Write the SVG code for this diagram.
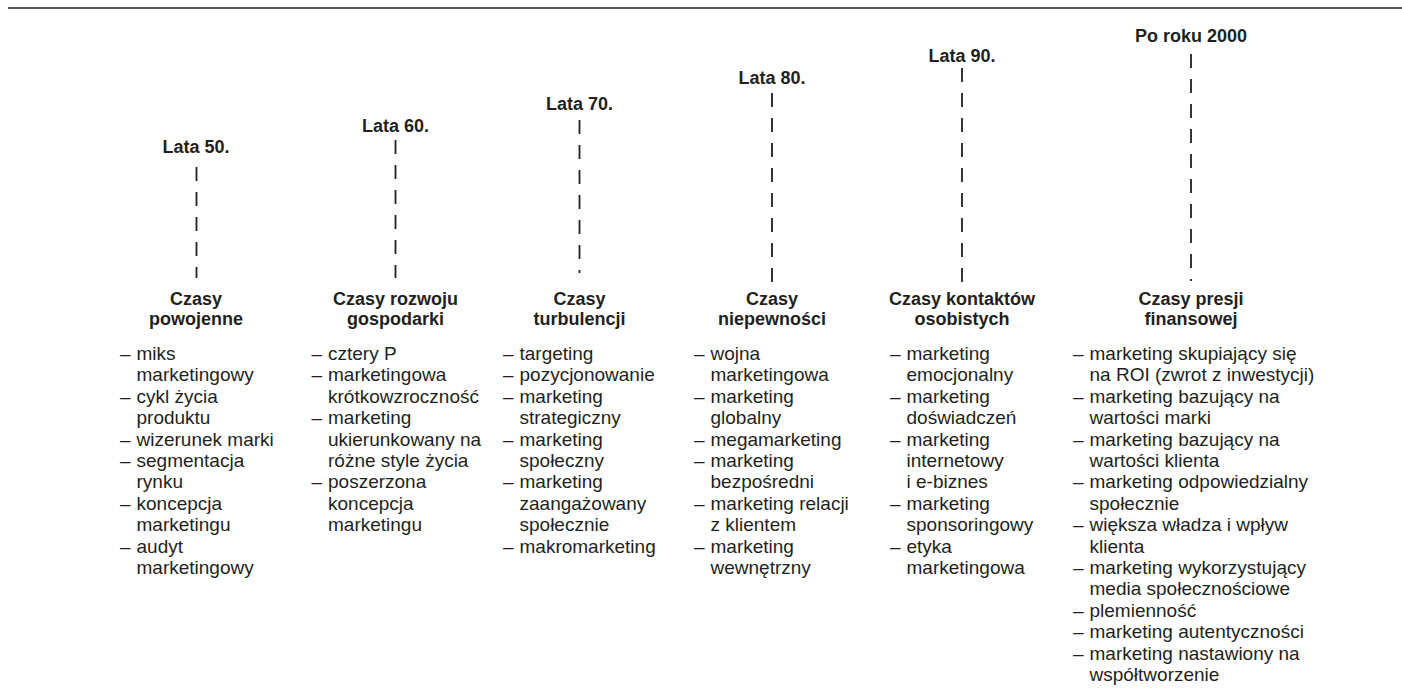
<svg xmlns="http://www.w3.org/2000/svg" width="1402" height="699" viewBox="0 0 1402 699">
<style>
text{font-family:"Liberation Sans",Arial,Helvetica,sans-serif;fill:#231f20}
.yr,.hd{font-size:18px;font-weight:bold;text-anchor:middle}
.it{font-size:19px}
.dl{stroke:#231f20;stroke-width:1.8;stroke-dasharray:14 11;fill:none}
</style>
<rect width="1402" height="699" fill="#fff"/>
<line x1="8" y1="8" x2="1402" y2="8" stroke="#231f20" stroke-width="1.6"/>
<g id="connectors">
<line class="dl" x1="196.5" y1="167" x2="196.5" y2="278"/>
<line class="dl" x1="395.5" y1="140" x2="395.5" y2="278"/>
<line class="dl" x1="579.5" y1="120" x2="579.5" y2="273"/>
<line class="dl" x1="772" y1="93" x2="772" y2="282"/>
<line class="dl" x1="962" y1="68" x2="962" y2="282"/>
<line class="dl" x1="1191" y1="54" x2="1191" y2="281"/>
</g>
<g id="col1">
<text class="yr" x="196" y="153">Lata 50.</text>
<text class="hd" x="196" y="305">Czasy</text>
<text class="hd" x="196" y="325">powojenne</text>
<text class="it" x="120" y="360">–</text><text class="it" x="136.5" y="360">miks</text>
<text class="it" x="136.5" y="381.4">marketingowy</text>
<text class="it" x="120" y="402.8">–</text><text class="it" x="136.5" y="402.8">cykl życia</text>
<text class="it" x="136.5" y="424.2">produktu</text>
<text class="it" x="120" y="445.6">–</text><text class="it" x="136.5" y="445.6">wizerunek marki</text>
<text class="it" x="120" y="467">–</text><text class="it" x="136.5" y="467">segmentacja</text>
<text class="it" x="136.5" y="488.4">rynku</text>
<text class="it" x="120" y="509.8">–</text><text class="it" x="136.5" y="509.8">koncepcja</text>
<text class="it" x="136.5" y="531.2">marketingu</text>
<text class="it" x="120" y="552.6">–</text><text class="it" x="136.5" y="552.6">audyt</text>
<text class="it" x="136.5" y="574">marketingowy</text>
</g>
<g id="col2">
<text class="yr" x="395.5" y="131.5">Lata 60.</text>
<text class="hd" x="395.5" y="305">Czasy rozwoju</text>
<text class="hd" x="395.5" y="325">gospodarki</text>
<text class="it" x="311.5" y="360">–</text><text class="it" x="328" y="360">cztery P</text>
<text class="it" x="311.5" y="381.4">–</text><text class="it" x="328" y="381.4">marketingowa</text>
<text class="it" x="328" y="402.8">krótkowzroczność</text>
<text class="it" x="311.5" y="424.2">–</text><text class="it" x="328" y="424.2">marketing</text>
<text class="it" x="328" y="445.6">ukierunkowany na</text>
<text class="it" x="328" y="467">różne style życia</text>
<text class="it" x="311.5" y="488.4">–</text><text class="it" x="328" y="488.4">poszerzona</text>
<text class="it" x="328" y="509.8">koncepcja</text>
<text class="it" x="328" y="531.2">marketingu</text>
</g>
<g id="col3">
<text class="yr" x="579.5" y="110">Lata 70.</text>
<text class="hd" x="579.5" y="305">Czasy</text>
<text class="hd" x="579.5" y="325">turbulencji</text>
<text class="it" x="503" y="360">–</text><text class="it" x="519.5" y="360">targeting</text>
<text class="it" x="503" y="381.4">–</text><text class="it" x="519.5" y="381.4">pozycjonowanie</text>
<text class="it" x="503" y="402.8">–</text><text class="it" x="519.5" y="402.8">marketing</text>
<text class="it" x="519.5" y="424.2">strategiczny</text>
<text class="it" x="503" y="445.6">–</text><text class="it" x="519.5" y="445.6">marketing</text>
<text class="it" x="519.5" y="467">społeczny</text>
<text class="it" x="503" y="488.4">–</text><text class="it" x="519.5" y="488.4">marketing</text>
<text class="it" x="519.5" y="509.8">zaangażowany</text>
<text class="it" x="519.5" y="531.2">społecznie</text>
<text class="it" x="503" y="552.6">–</text><text class="it" x="519.5" y="552.6">makromarketing</text>
</g>
<g id="col4">
<text class="yr" x="772" y="84">Lata 80.</text>
<text class="hd" x="772" y="305">Czasy</text>
<text class="hd" x="772" y="325">niepewności</text>
<text class="it" x="694" y="360">–</text><text class="it" x="710.5" y="360">wojna</text>
<text class="it" x="710.5" y="381.4">marketingowa</text>
<text class="it" x="694" y="402.8">–</text><text class="it" x="710.5" y="402.8">marketing</text>
<text class="it" x="710.5" y="424.2">globalny</text>
<text class="it" x="694" y="445.6">–</text><text class="it" x="710.5" y="445.6">megamarketing</text>
<text class="it" x="694" y="467">–</text><text class="it" x="710.5" y="467">marketing</text>
<text class="it" x="710.5" y="488.4">bezpośredni</text>
<text class="it" x="694" y="509.8">–</text><text class="it" x="710.5" y="509.8">marketing relacji</text>
<text class="it" x="710.5" y="531.2">z klientem</text>
<text class="it" x="694" y="552.6">–</text><text class="it" x="710.5" y="552.6">marketing</text>
<text class="it" x="710.5" y="574">wewnętrzny</text>
</g>
<g id="col5">
<text class="yr" x="962" y="62">Lata 90.</text>
<text class="hd" x="962" y="305">Czasy kontaktów</text>
<text class="hd" x="962" y="325">osobistych</text>
<text class="it" x="890" y="360">–</text><text class="it" x="906.5" y="360">marketing</text>
<text class="it" x="906.5" y="381.4">emocjonalny</text>
<text class="it" x="890" y="402.8">–</text><text class="it" x="906.5" y="402.8">marketing</text>
<text class="it" x="906.5" y="424.2">doświadczeń</text>
<text class="it" x="890" y="445.6">–</text><text class="it" x="906.5" y="445.6">marketing</text>
<text class="it" x="906.5" y="467">internetowy</text>
<text class="it" x="906.5" y="488.4">i e-biznes</text>
<text class="it" x="890" y="509.8">–</text><text class="it" x="906.5" y="509.8">marketing</text>
<text class="it" x="906.5" y="531.2">sponsoringowy</text>
<text class="it" x="890" y="552.6">–</text><text class="it" x="906.5" y="552.6">etyka</text>
<text class="it" x="906.5" y="574">marketingowa</text>
</g>
<g id="col6">
<text class="yr" x="1191" y="42">Po roku 2000</text>
<text class="hd" x="1191" y="305">Czasy presji</text>
<text class="hd" x="1191" y="325">finansowej</text>
<text class="it" x="1073" y="360">–</text><text class="it" x="1089.5" y="360">marketing skupiający się</text>
<text class="it" x="1089.5" y="381.4">na ROI (zwrot z inwestycji)</text>
<text class="it" x="1073" y="402.8">–</text><text class="it" x="1089.5" y="402.8">marketing bazujący na</text>
<text class="it" x="1089.5" y="424.2">wartości marki</text>
<text class="it" x="1073" y="445.6">–</text><text class="it" x="1089.5" y="445.6">marketing bazujący na</text>
<text class="it" x="1089.5" y="467">wartości klienta</text>
<text class="it" x="1073" y="488.4">–</text><text class="it" x="1089.5" y="488.4">marketing odpowiedzialny</text>
<text class="it" x="1089.5" y="509.8">społecznie</text>
<text class="it" x="1073" y="531.2">–</text><text class="it" x="1089.5" y="531.2">większa władza i wpływ</text>
<text class="it" x="1089.5" y="552.6">klienta</text>
<text class="it" x="1073" y="574">–</text><text class="it" x="1089.5" y="574">marketing wykorzystujący</text>
<text class="it" x="1089.5" y="595.4">media społecznościowe</text>
<text class="it" x="1073" y="616.8">–</text><text class="it" x="1089.5" y="616.8">plemienność</text>
<text class="it" x="1073" y="638.2">–</text><text class="it" x="1089.5" y="638.2">marketing autentyczności</text>
<text class="it" x="1073" y="659.6">–</text><text class="it" x="1089.5" y="659.6">marketing nastawiony na</text>
<text class="it" x="1089.5" y="681">współtworzenie</text>
</g>
</svg>
